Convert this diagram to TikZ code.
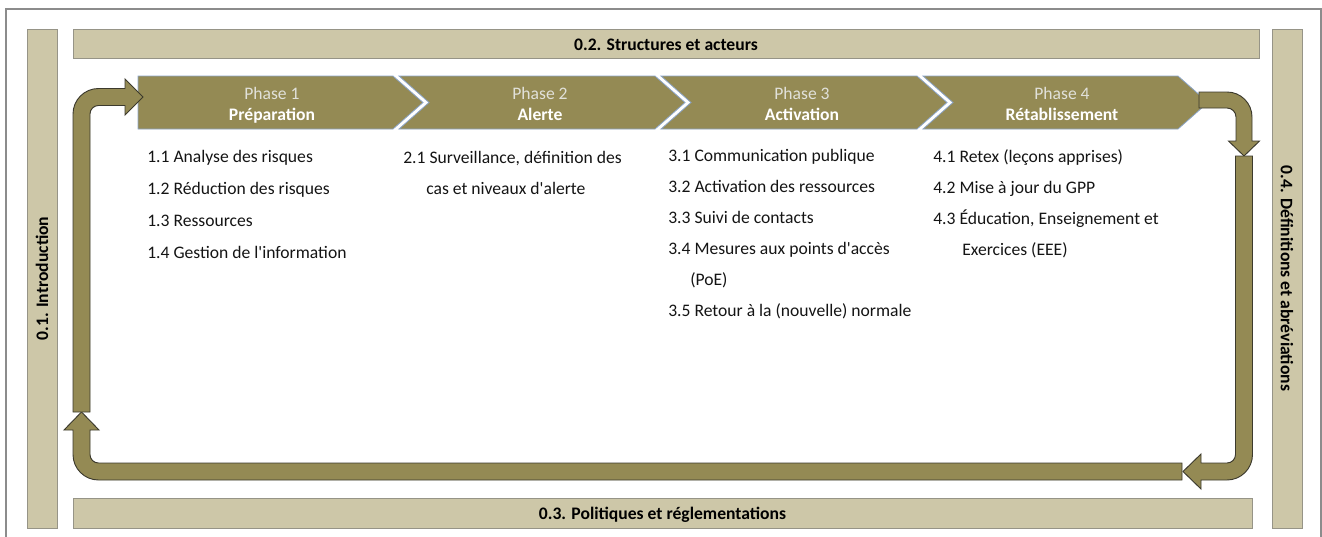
\documentclass[tikz,border=0pt]{standalone}
\usepackage{fontspec}
\setmainfont{Carlito}[Ligatures=TeXOff]
\definecolor{phasefill}{RGB}{148,138,84}
\definecolor{barfill}{RGB}{205,199,168}
\definecolor{barline}{RGB}{150,148,135}
\definecolor{chevline}{RGB}{140,165,200}
\definecolor{loopline}{RGB}{60,58,45}
\definecolor{framecol}{RGB}{140,140,140}
\definecolor{itemtext}{RGB}{20,20,20}
\definecolor{phasenum}{RGB}{225,225,218}

\begin{document}
\begin{tikzpicture}[x=0.75pt,y=-0.75pt,
  bar/.style={fill=barfill, draw=barline, line width=0.6pt},
  chev/.style={fill=phasefill, draw=chevline, line width=0.6pt},
  loop/.style={fill=phasefill, draw=loopline, line width=0.7pt},
  item/.style={anchor=base west, inner sep=0pt, text=itemtext,
    font=\fontsize{13.2}{16}\selectfont},
  phnum/.style={anchor=base, inner sep=0pt, text=phasenum,
    font=\fontsize{13.2}{16}\selectfont},
  phname/.style={anchor=base, inner sep=0pt, text=white,
    font=\fontsize{13.2}{16}\selectfont\bfseries},
  bartext/.style={inner sep=0pt, text=black,
    font=\fontsize{13.2}{16}\selectfont\bfseries}
]
\useasboundingbox (0,0) rectangle (1322,536);

% outer frame
\draw[framecol, line width=0.8pt] (6,540) -- (6,9) -- (1321,9) -- (1321,540);

% surrounding bars
\draw[bar] (27,29) rectangle (57,528);
\draw[bar] (73,29) rectangle (1259,58);
\draw[bar] (1272,29) rectangle (1302,528);
\draw[bar] (73,498) rectangle (1252,528);
\node[bartext, rotate=90] (intro) at (42,278.5) {0.1. Introduction};
\node[bartext, anchor=base] (struct) at (666,50) {0.2. Structures et acteurs};
\node[bartext, rotate=-90] (defs) at (1287,278.5) {0.4. Définitions et abréviations};
\node[bartext, anchor=base] (policy) at (662.5,519.5) {0.3. Politiques et réglementations};

% phase chevrons
\draw[chev] (138,76) -- (393,76) -- (423,102.5) -- (393,129) -- (138,129) -- cycle;
\draw[chev] (399,76) -- (655,76) -- (685,102.5) -- (655,129) -- (399,129) -- (429,102.5) -- cycle;
\draw[chev] (661,76) -- (917,76) -- (947,102.5) -- (917,129) -- (661,129) -- (691,102.5) -- cycle;
\draw[chev] (923,76) -- (1178,76) -- (1208,102.5) -- (1178,129) -- (923,129) -- (953,102.5) -- cycle;

\node[phnum]  (p1num)  at (272,99)  {Phase 1};
\node[phname] (p1name) at (272,120) {Préparation};
\node[phnum]  (p2num)  at (540,99)  {Phase 2};
\node[phname] (p2name) at (540,120) {Alerte};
\node[phnum]  (p3num)  at (802,99)  {Phase 3};
\node[phname] (p3name) at (802,120) {Activation};
\node[phnum]  (p4num)  at (1062,99) {Phase 4};
\node[phname] (p4name) at (1062,120) {Rétablissement};

% cycle arrows
\draw[loop] (1199,92) -- (1227,92) arc[start angle=270, end angle=360, radius=25]
  -- (1252,141) -- (1259.5,141) -- (1244,156) -- (1228.5,141) -- (1236,141)
  -- (1236,117) arc[start angle=360, end angle=270, radius=9]
  -- (1199,108) -- cycle;
\draw[loop] (1235.5,156) -- (1252.5,156) -- (1252.5,454.5)
  arc[start angle=0, end angle=90, radius=25.5]
  -- (1201,480) -- (1201,489) -- (1183,471.5) -- (1201,454) -- (1201,463)
  -- (1227,463) arc[start angle=90, end angle=0, radius=8.5] -- cycle;
\draw[loop] (1182,463) -- (1182,480) -- (98.5,480)
  arc[start angle=90, end angle=180, radius=25.5]
  -- (73,430) -- (64,430) -- (81.5,412) -- (99,430) -- (90,430)
  -- (90,454.5) arc[start angle=180, end angle=90, radius=8.5] -- cycle;
\draw[loop] (90,412) -- (73,412) -- (73,114)
  arc[start angle=180, end angle=270, radius=25.5]
  -- (125,88.5) -- (125,79) -- (143,97) -- (125,115) -- (125,105.5)
  -- (98.5,105.5) arc[start angle=270, end angle=180, radius=8.5] -- cycle;

% phase 1 items
\node[item] (i11) at (147,162.5) {1.1 Analyse des risques};
\node[item] (i12) at (147,194.5) {1.2 Réduction des risques};
\node[item] (i13) at (147,226)   {1.3 Ressources};
\node[item] (i14) at (147,258)   {1.4 Gestion de l'information};
% phase 2 items
\node[item] (i21a) at (403,163)  {2.1 Surveillance, définition des};
\node[item] (i21b) at (426,194)  {cas et niveaux d'alerte};
% phase 3 items
\node[item] (i31) at (668,161.5)  {3.1 Communication publique};
\node[item] (i32) at (668,192.5)  {3.2 Activation des ressources};
\node[item] (i33) at (668,223.5)  {3.3 Suivi de contacts};
\node[item] (i34a) at (668,254)   {3.4 Mesures aux points d'accès};
\node[item] (i34b) at (690,285)   {(PoE)};
\node[item] (i35) at (668,316)    {3.5 Retour à la (nouvelle) normale};
% phase 4 items
\node[item] (i41) at (933,162)    {4.1 Retex (leçons apprises)};
\node[item] (i42) at (933,193)    {4.2 Mise à jour du GPP};
\node[item] (i43a) at (933,224)   {4.3 Éducation, Enseignement et};
\node[item] (i43b) at (962,255)   {Exercices (EEE)};
\end{tikzpicture}
\end{document}
